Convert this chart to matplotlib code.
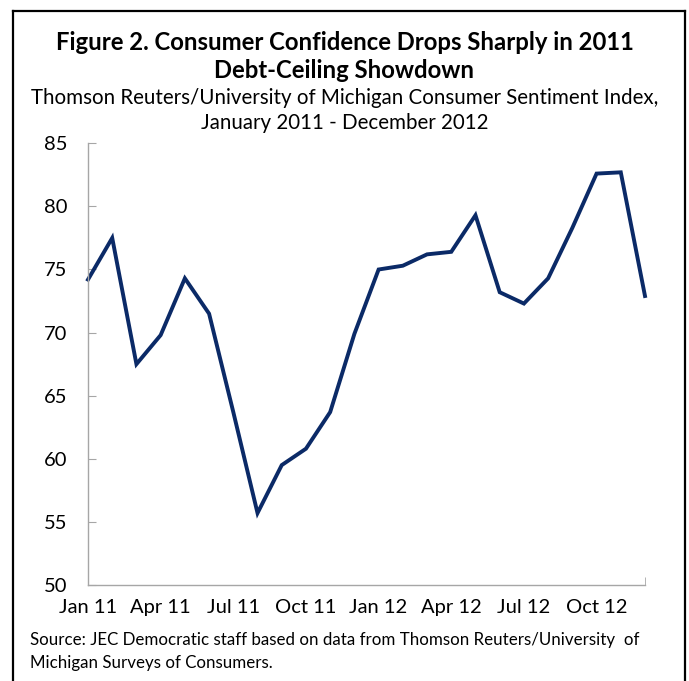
import matplotlib
matplotlib.use('Agg')
import matplotlib.pyplot as plt
from matplotlib.lines import Line2D

# Thomson Reuters/UMich consumer sentiment, Jan 2011 - Dec 2012
months = ['Jan 11', 'Feb 11', 'Mar 11', 'Apr 11', 'May 11', 'Jun 11',
          'Jul 11', 'Aug 11', 'Sep 11', 'Oct 11', 'Nov 11', 'Dec 11',
          'Jan 12', 'Feb 12', 'Mar 12', 'Apr 12', 'May 12', 'Jun 12',
          'Jul 12', 'Aug 12', 'Sep 12', 'Oct 12', 'Nov 12', 'Dec 12']
sentiment = [74.2, 77.5, 67.5, 69.8, 74.3, 71.5, 63.7, 55.7, 59.5, 60.8, 63.7, 69.9,
             75.0, 75.3, 76.2, 76.4, 79.3, 73.2, 72.3, 74.3, 78.3, 82.6, 82.7, 72.9]
yticks = [50, 55, 60, 65, 70, 75, 80, 85]

W, H = 689, 681
plt.rcParams['font.family'] = ['Lato', 'DejaVu Sans']

fig = plt.figure(figsize=(W / 100, H / 100), dpi=100)
ax = fig.add_axes([88 / W, 1 - 585 / H, (645 - 88) / W, (585 - 143.3) / H])

x = list(range(len(months)))
ax.plot(x, sentiment, color='#0b2a67', lw=2.8, solid_joinstyle='miter', clip_on=False)

ax.set_xlim(0, len(months) - 1)
ax.set_ylim(50, 85)
ax.set_yticks(yticks)
ax.set_xticks(x[::3])
ax.set_xticklabels(months[::3])
ax.set_xticks(x[3::3] + [len(months) - 1], minor=True)

for s in ['top', 'right']:
    ax.spines[s].set_visible(False)
for s in ['left', 'bottom']:
    ax.spines[s].set_color('#a6a6a6')
    ax.spines[s].set_linewidth(1)
ax.tick_params(axis='y', direction='in', length=6, color='#a6a6a6', labelsize=14.5, pad=15)
ax.tick_params(axis='x', which='major', length=0, labelsize=14.5, pad=10)
ax.tick_params(axis='x', which='minor', direction='in', length=6, color='#a6a6a6')

fig.text(0.5, 1 - 42 / H, 'Figure 2. Consumer Confidence Drops Sharply in 2011',
         ha='center', va='center', fontsize=17.2, fontweight='bold')
fig.text(0.5, 1 - 70 / H, 'Debt-Ceiling Showdown',
         ha='center', va='center', fontsize=17.2, fontweight='bold')
fig.text(0.5, 1 - 98 / H, 'Thomson Reuters/University of Michigan Consumer Sentiment Index,',
         ha='center', va='center', fontsize=14.8)
fig.text(0.5, 1 - 123 / H, 'January 2011 - December 2012',
         ha='center', va='center', fontsize=14.8)
fig.text(30 / W, 1 - 640 / H,
         'Source: JEC Democratic staff based on data from Thomson Reuters/University  of',
         ha='left', va='center', fontsize=12.2)
fig.text(30 / W, 1 - 663 / H, 'Michigan Surveys of Consumers.',
         ha='left', va='center', fontsize=12.2)

# outer frame (open at the bottom)
frame = dict(color='black', lw=1.6, transform=fig.transFigure)
fig.add_artist(Line2D([12.5 / W, 12.5 / W], [0, 1 - 11 / H], **frame))
fig.add_artist(Line2D([12.5 / W, 684.5 / W], [1 - 11 / H, 1 - 11 / H], **frame))
fig.add_artist(Line2D([684.5 / W, 684.5 / W], [0, 1 - 11 / H], **frame))

plt.savefig('out.png', dpi=100)
